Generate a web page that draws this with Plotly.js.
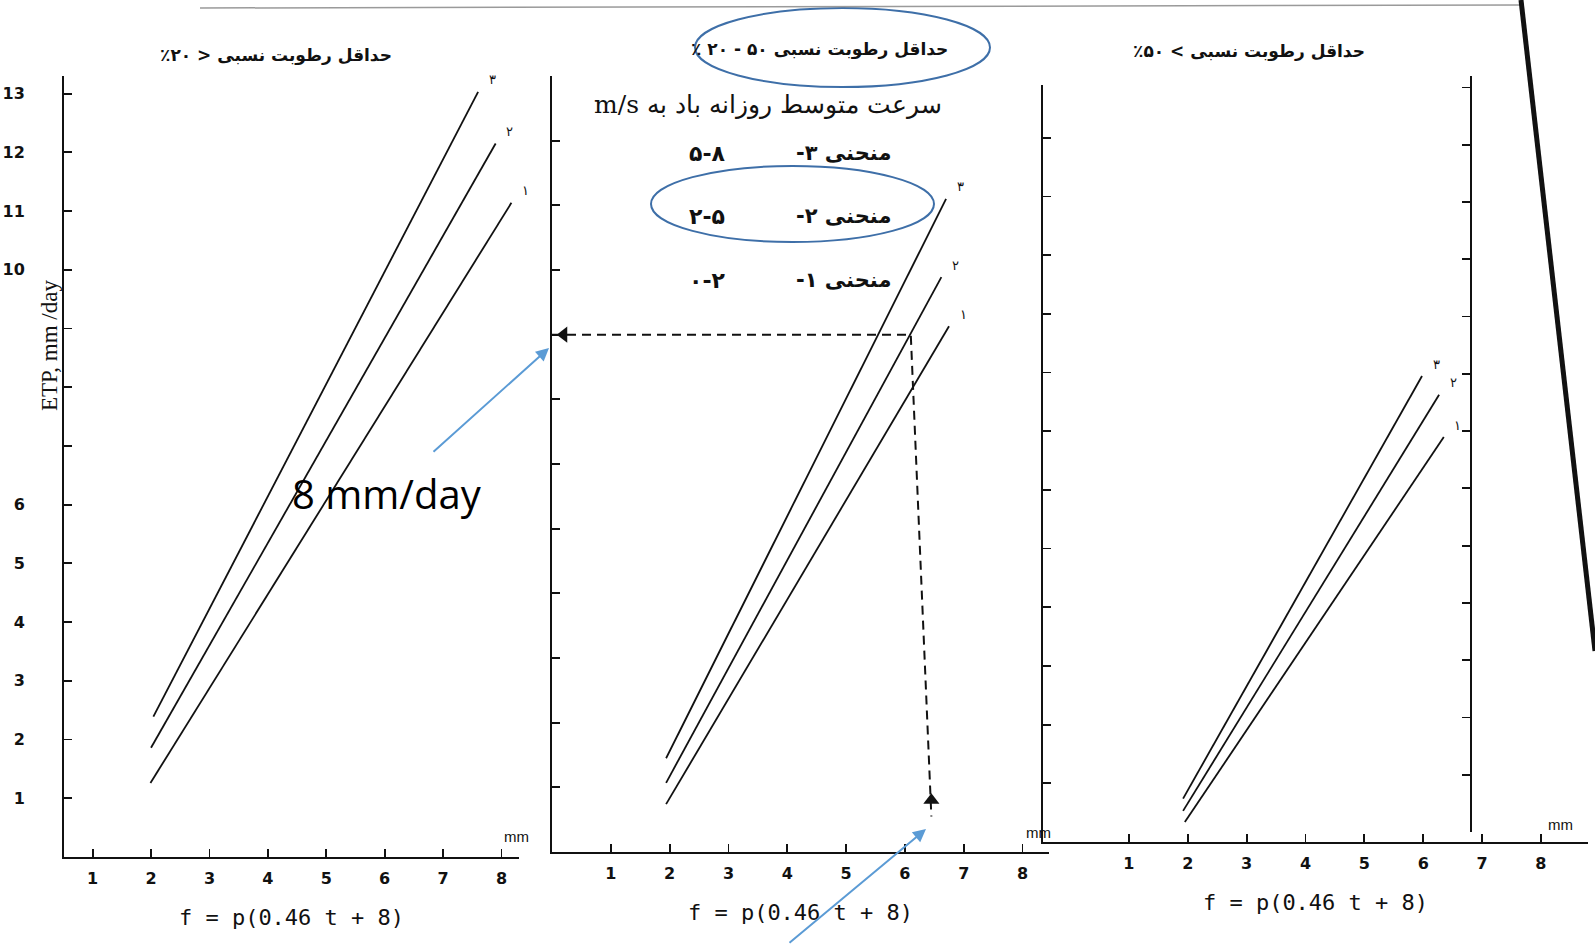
<!DOCTYPE html>
<html><head><meta charset="utf-8">
<script src="https://cdn.plot.ly/plotly-3.0.1.min.js"></script>
<style>html,body{margin:0;padding:0;background:#fff}</style>
</head><body><div id="chart" style="width:1595px;height:944px"></div>
<script>
// ---------- data ----------
const fTicks = [1, 2, 3, 4, 5, 6, 7, 8];
const fTickText = ['1', '2', '3', '4', '5', '6', '7', '8'];
const etpTicksLeft = [1, 2, 3, 4, 5, 6, 7, 8, 9, 10, 11, 12, 13];
const etpTickTextLeft = ['1', '2', '3', '4', '5', '6', '', '', '', '10', '11', '12', '13'];
const etpTicksMid = [1, 2, 3, 4, 5, 6, 7, 8, 9, 10, 11, 12];
const etpTicksRight = [1, 2, 3, 4, 5, 6, 7, 8, 9, 10, 11, 12];
const etpTicksEdge = [1, 2, 3, 4, 5, 6, 7, 8, 9, 10, 11, 12, 13];
const curveLabels = ['۱', '۲', '۳'];

// Panel 1: minimum relative humidity < 20 %
const lowRhCurve1F = [1.99, 8.17], lowRhCurve1ETP = [1.26, 11.14];
const lowRhCurve2F = [2.00, 7.90], lowRhCurve2ETP = [1.86, 12.15];
const lowRhCurve3F = [2.04, 7.60], lowRhCurve3ETP = [2.39, 13.03];
// Panel 2: minimum relative humidity 20 - 50 %
const midRhCurve1F = [1.94, 6.75], midRhCurve1ETP = [0.74, 8.13];
const midRhCurve2F = [1.94, 6.62], midRhCurve2ETP = [1.07, 8.89];
const midRhCurve3F = [1.94, 6.70], midRhCurve3ETP = [1.45, 10.10];
// Panel 3: minimum relative humidity > 50 %
const highRhCurve1F = [1.95, 6.35], highRhCurve1ETP = [0.34, 6.90];
const highRhCurve2F = [1.92, 6.27], highRhCurve2ETP = [0.53, 7.62];
const highRhCurve3F = [1.92, 5.98], highRhCurve3ETP = [0.74, 7.94];
// worked reading example (dashed guide) in panel 2
const readF = [0, 6.10, 6.45];
const readETP = [8, 8, 0.55];

// texts
const RLE = '\u202B', PDF = '\u202C';
const fa = s => RLE + s + PDF;
const titleLow = 'حداقل رطوبت نسبی < ۲۰٪';
const titleMid = 'حداقل رطوبت نسبی ۵۰ - ۲۰ ٪';
const titleHigh = 'حداقل رطوبت نسبی > ۵۰٪';
const windHeader = 'سرعت متوسط روزانه باد به m/s';
const curveRowLabels = ['منحنی ۳-', 'منحنی ۲-', 'منحنی ۱-'];
const curveRowRanges = ['۵-۸', '۲-۵', '۰-۲'];
const xTitle = 'f = p(0.46 t + 8)';
const yTitle = 'ETP, mm /day';

// ---------- build ----------
const ink = '#111';
function curve(x, y, xa, ya) {
  return {type: 'scatter', mode: 'lines', x: x, y: y, xaxis: xa, yaxis: ya,
          line: {color: ink, width: 1.8}, hoverinfo: 'skip', showlegend: false};
}
const panels = [
  {xa: 'x', ya: 'y', curves: [[lowRhCurve1F, lowRhCurve1ETP], [lowRhCurve2F, lowRhCurve2ETP], [lowRhCurve3F, lowRhCurve3ETP]]},
  {xa: 'x2', ya: 'y2', curves: [[midRhCurve1F, midRhCurve1ETP], [midRhCurve2F, midRhCurve2ETP], [midRhCurve3F, midRhCurve3ETP]]},
  {xa: 'x3', ya: 'y3', curves: [[highRhCurve1F, highRhCurve1ETP], [highRhCurve2F, highRhCurve2ETP], [highRhCurve3F, highRhCurve3ETP]]}
];
const traces = [];
const annotations = [];
panels.forEach(p => {
  p.curves.forEach((c, i) => {
    traces.push(curve(c[0], c[1], p.xa, p.ya));
    annotations.push({xref: p.xa, yref: p.ya, x: c[0][1], y: c[1][1], text: curveLabels[i],
      xanchor: 'center', yanchor: 'middle',
      showarrow: false, xshift: 14, yshift: 12, font: {family: 'DejaVu Sans', size: 13, color: ink}});
  });
});
traces.push({type: 'scatter', mode: 'lines', x: readF, y: readETP, xaxis: 'x2', yaxis: 'y2',
  line: {color: ink, width: 2, dash: '9px,6px'}, hoverinfo: 'skip', showlegend: false});
traces.push({type: 'scatter', mode: 'markers', x: [readF[0] + 0.2, readF[2]], y: [readETP[0], readETP[2] + 0.25],
  xaxis: 'x2', yaxis: 'y2', marker: {symbol: ['triangle-left', 'triangle-up'], size: 14, color: ink},
  hoverinfo: 'skip', showlegend: false});
// empty trace so the edge axis of the next (cut-off) chart is drawn
traces.push({type: 'scatter', mode: 'lines', x: [], y: [], xaxis: 'x4', yaxis: 'y4', hoverinfo: 'skip', showlegend: false});

const W = 1595, H = 944;
const px = v => v / W, py = v => 1 - v / H;
function note(x, y, text, font, extra) {
  return Object.assign({xref: 'paper', yref: 'paper', x: px(x), y: py(y), text: text, showarrow: false,
    xanchor: 'center', yanchor: 'middle', font: font}, extra || {});
}

const faFont = {family: 'DejaVu Sans', color: ink};
annotations.push(
  note(276, 56, fa(titleLow), {...faFont, size: 17, weight: 'bold'}),
  note(819, 49, fa(titleMid), {...faFont, size: 17, weight: 'bold'}),
  note(1249, 51, fa(titleHigh), {...faFont, size: 17, weight: 'bold'}),
  note(944, 105, fa(windHeader), {family: 'DejaVu Serif', size: 25, color: ink}, {xanchor: 'right'}),
  note(49, 346, yTitle, {family: 'Liberation Serif', size: 23, color: ink}, {textangle: -90}),
  note(387, 493, '8 mm/day', {family: 'Open Sans', size: 40, color: '#000'}),
  note(516, 836, 'mm', {family: 'Liberation Sans', size: 15, color: ink}),
  note(1038, 832, 'mm', {family: 'Liberation Sans', size: 15, color: ink}),
  note(1560, 824, 'mm', {family: 'Liberation Sans', size: 15, color: ink}),
  {xref: 'paper', yref: 'paper', x: px(549), y: py(348), ax: -117, ay: 105, text: '', showarrow: true,
   arrowcolor: '#5B9BD5', arrowwidth: 2, arrowhead: 2, arrowsize: 1.3},
  {xref: 'paper', yref: 'paper', x: px(926), y: py(829), ax: -138, ay: 115, text: '', showarrow: true,
   arrowcolor: '#5B9BD5', arrowwidth: 2, arrowhead: 2, arrowsize: 1.3}
);
const rowY = [153, 216, 280];
curveRowLabels.forEach((t, i) => {
  annotations.push(note(893, rowY[i], fa(t), {...faFont, size: 21, weight: 'bold'}, {xanchor: 'right'}));
  annotations.push(note(707, rowY[i], curveRowRanges[i], {...faFont, size: 22, weight: 'bold'}));
});

const axBase = {showgrid: false, zeroline: false, showline: true, linecolor: ink, linewidth: 2,
  ticks: 'inside', ticklen: 8, tickwidth: 1.8, tickcolor: ink, fixedrange: true,
  tickfont: {family: 'DejaVu Sans', size: 16, color: ink, weight: 'bold'}};
const xTitleObj = {text: xTitle, font: {family: 'DejaVu Sans Mono', size: 22, color: ink}, standoff: 22};

const layout = {
  width: W, height: H, margin: {l: 0, r: 0, t: 0, b: 0},
  paper_bgcolor: '#fff', plot_bgcolor: 'rgba(0,0,0,0)', showlegend: false,
  xaxis: {...axBase, domain: [px(64), px(519)], range: [0.51, 8.3], anchor: 'y',
          tickvals: fTicks, ticktext: fTickText, title: xTitleObj, ticklabelstandoff: 6},
  yaxis: {...axBase, domain: [py(857), py(76)], range: [0, 13.3], anchor: 'x',
          tickvals: etpTicksLeft, ticktext: etpTickTextLeft, ticklabelstandoff: 34},
  xaxis2: {...axBase, domain: [px(552), px(1049)], range: [0, 8.45], anchor: 'y2',
          tickvals: fTicks, ticktext: fTickText, title: xTitleObj, ticklabelstandoff: 6},
  yaxis2: {...axBase, domain: [py(852), py(76)], range: [0, 12], anchor: 'x2',
          tickvals: etpTicksMid, showticklabels: false},
  xaxis3: {...axBase, domain: [px(1043), px(1588)], range: [-0.46, 8.8], anchor: 'y3',
          tickvals: fTicks, ticktext: fTickText, title: xTitleObj, ticklabelstandoff: 6},
  yaxis3: {...axBase, domain: [py(842), py(85)], range: [0, 12.9], anchor: 'x3',
          tickvals: etpTicksRight, showticklabels: false},
  xaxis4: {domain: [px(1472), px(1590)], range: [0, 1], anchor: 'y4', visible: false, fixedrange: true},
  yaxis4: {...axBase, domain: [py(832), py(76)], range: [0, 13.2], anchor: 'x4', side: 'left',
          ticks: 'outside', tickvals: etpTicksEdge, showticklabels: false},
  annotations: annotations,
  shapes: [
    {type: 'circle', xref: 'paper', yref: 'paper', x0: px(695), x1: px(990), y0: py(87), y1: py(8),
     line: {color: '#3E6FA8', width: 2}},
    {type: 'circle', xref: 'paper', yref: 'paper', x0: px(651), x1: px(934), y0: py(242), y1: py(166),
     line: {color: '#3E6FA8', width: 2}},
    {type: 'line', xref: 'paper', yref: 'paper', x0: px(200), y0: py(8), x1: px(1521), y1: py(5),
     line: {color: '#9a9a9a', width: 1.5}},
    {type: 'line', xref: 'paper', yref: 'paper', x0: px(1521), y0: 1, x1: 1, y1: py(651),
     line: {color: '#111', width: 5}}
  ]
};
Plotly.newPlot('chart', traces, layout, {displayModeBar: false, staticPlot: true});
</script></body></html>
